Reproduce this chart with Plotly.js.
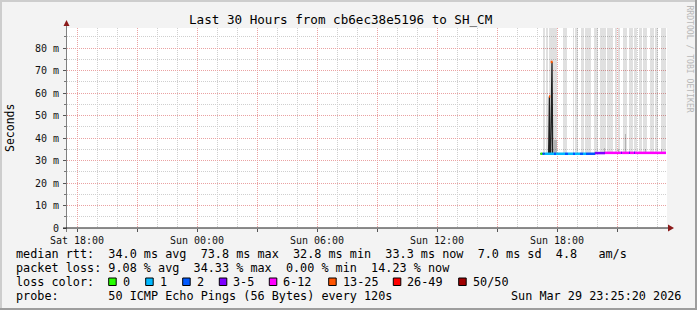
<!DOCTYPE html>
<html><head><meta charset="utf-8">
<script src="https://cdn.plot.ly/plotly-3.0.1.min.js"></script>
<style>html,body{margin:0;padding:0;background:#f3f3f3;}#chart{width:697px;height:310px;}</style>
</head><body><div id="chart"></div>
<script>
// ---------------- data ----------------
const xTickVals = ['2026-03-28 18:00','2026-03-28 21:00','2026-03-29 00:00','2026-03-29 03:00','2026-03-29 06:00','2026-03-29 09:00','2026-03-29 12:00','2026-03-29 15:00','2026-03-29 18:00','2026-03-29 21:00'];
const xTickText = ['Sat 18:00','','Sun 00:00','','Sun 06:00','','Sun 12:00','','Sun 18:00',''];
const yTickVals = [0,10,20,30,40,50,60,70,80];
const yTickText = ['0','10 m','20 m','30 m','40 m','50 m','60 m','70 m','80 m'];

const lossLabels = ['0','1','2','3-5','6-12','13-25','26-49','50/50'];
const lossColors = ['#26ff00','#00b8ff','#0059ff','#7e00ff','#ff00ff','#ff5500','#ff0000','#a00000'];

// median (ms) per interval, coloured by loss bucket index
const segStart  = ['17:10:30','17:16:30','17:22:30','17:51','17:57','18:24','18:33','18:48','18:54','19:09','19:18','19:27','19:54','20:24','21:12','21:15','21:36','21:39','21:51','21:54','17:36','17:41'];
const segEnd    = ['17:16:30','17:22:30','17:51','17:57','18:24','18:33','18:48','18:54','19:09','19:18','19:27','19:54','20:24','21:12','21:15','21:36','21:39','21:51','21:54','23:27','17:40','17:47'];
const segMedian = [33.0,33.0,33.0,33.0,33.0,33.0,33.0,33.0,33.0,33.0,33.0,33.0,33.3,33.4,33.4,33.4,33.4,33.4,33.4,33.4,58.4,73.8];
const segLoss   = [0,2,1,2,1,2,1,2,1,2,1,2,3,4,3,4,3,4,3,4,5,5];

// thin dark median line
const lineTime = ['17:10','17:35','17:37','17:38','17:41','17:43','17:45','17:47','19:54','19:55','23:27'];
const lineMs   = [33.0,33.0,58.4,33.0,33.0,73.8,73.8,33.0,33.0,33.4,33.4];

// smoke: pings spread (light bars go above the chart top)
const smokeStart = ['17:17','17:28','17:37','17:50','18:17','18:47','18:55','19:11','19:25','19:51','20:10','20:31','20:53','21:02','21:17','21:36','21:51','22:07','22:19','22:39','22:55','23:11'];
const smokeEnd   = ['17:23','17:34','17:50','17:59','18:29','18:52','19:04','19:20','19:43','20:04','20:27','20:49','20:59','21:10','21:29','21:47','22:01','22:14','22:31','22:50','23:04','23:26'];
const smokeTop   = [100,100,100,100,100,100,100,100,100,100,100,100,100,100,100,100,100,100,100,100,100,100];
const smokeDarkStart = ['17:33','17:51','20:20','21:03','21:23','22:23','23:11'];
const smokeDarkEnd   = ['17:38','18:00','20:23','21:06','21:26','22:26','23:14'];
const smokeDarkTop   = [36.8,39.3,35.5,35.3,42.0,35.0,35.0];

const rttStats  = ['34.0','73.8','32.8','33.3','7.0','4.8'];
const lossStats = ['9.08','34.33','0.00','14.23'];

// ---------------- build ----------------
const DAY = '2026-03-29 ';
const ms = s => Date.parse((DAY + s).replace(' ','T') + 'Z');
const L=67, Tm=28, PW=600, PH=200;
const px = p => (p - L)/PW;
const py = p => (Tm + PH - p)/PH;
const MONO = 'DejaVu Sans Mono';
const sp = s => s.replace(/ /g,'\u00a0');

const traces = [];
traces.push({type:'bar', x: smokeStart.map((s,i)=>(ms(s)+ms(smokeEnd[i]))/2),
  width: smokeStart.map((s,i)=>ms(smokeEnd[i])-ms(s)),
  base: smokeStart.map(()=>33.5), y: smokeTop.map(v=>v-33.5),
  marker:{color:'rgba(0,0,0,0.12)', line:{width:0}}, hoverinfo:'skip'});
traces.push({type:'bar', x: smokeDarkStart.map((s,i)=>(ms(s)+ms(smokeDarkEnd[i]))/2),
  width: smokeDarkStart.map((s,i)=>ms(smokeDarkEnd[i])-ms(s)),
  base: smokeDarkStart.map(()=>33.2), y: smokeDarkTop.map(v=>v-33.2),
  marker:{color:'rgba(0,0,0,0.2)', line:{width:0}}, hoverinfo:'skip'});
traces.push({type:'scatter', mode:'lines', x: lineTime.map(ms), y: lineMs,
  line:{color:'#202020', width:1.3}, hoverinfo:'skip'});
lossColors.forEach((c,b)=>{
  const xs=[], ys=[];
  segLoss.forEach((l,i)=>{ if(l===b){ xs.push(ms(segStart[i]), ms(segEnd[i]), null); ys.push(segMedian[i], segMedian[i], null);} });
  if(xs.length) traces.push({type:'scatter', mode:'lines', x:xs, y:ys, line:{color:c, width:2.5}, hoverinfo:'skip'});
});

const shapes = [];
const rectPx = (x0,y0,x1,y1,fill,line) => shapes.push({type:'rect', xref:'paper', yref:'paper',
  x0:px(x0), x1:px(x1), y0:py(y1), y1:py(y0), fillcolor:fill, line: line||{width:0}, layer:'above'});
rectPx(0,0,697,2,'#cdcdcd'); rectPx(0,0,2,310,'#cdcdcd');
rectPx(0,308,697,310,'#9d9d9d'); rectPx(695,0,697,310,'#9d9d9d');
shapes.push({type:'line', xref:'paper', yref:'paper', x0:px(66.5), x1:px(66.5), y0:py(232), y1:py(24), line:{color:'#808080', width:1}});
shapes.push({type:'line', xref:'paper', yref:'paper', x0:px(63), x1:px(670), y0:py(228), y1:py(228), line:{color:'#1a1a1a', width:1}});
shapes.push({type:'path', xref:'paper', yref:'paper', path:`M ${px(63.5)} ${py(26)} L ${px(66.5)} ${py(20)} L ${px(69.5)} ${py(26)} Z`, fillcolor:'#8b1a1a', line:{width:0}});
shapes.push({type:'path', xref:'paper', yref:'paper', path:`M ${px(668)} ${py(224.5)} L ${px(674)} ${py(228)} L ${px(668)} ${py(231.5)} Z`, fillcolor:'#8b1a1a', line:{width:0}});

const annotations = [];
const txt = (t,x,y,size,opts) => annotations.push(Object.assign({text:sp(t), xref:'paper', yref:'paper', x:px(x), y:py(y),
  xanchor:'left', yanchor:'middle', showarrow:false, borderpad:0, borderwidth:0,
  font:{family:MONO, size:size, color:'#000'}}, opts||{}));
txt('Last 30 Hours from cb6ec38e5196 to SH_CM', 340.5, 19.5, 12.6, {xanchor:'center'});
txt('Seconds', 10, 128, 11.5, {xanchor:'center', textangle:-90});
txt('RRDTOOL / TOBI OETIKER', 689, 58.5, 8.1, {xanchor:'center', textangle:90, font:{family:MONO, size:8.1, color:'#b8b8b8'}});
const LS = 11.8;
txt(`median rtt:  ${rttStats[0]} ms avg  ${rttStats[1]} ms max  ${rttStats[2]} ms min  ${rttStats[3]} ms now  ${rttStats[4]} ms sd  ${rttStats[5]}   am/s`,16,254.3,LS);
txt(`packet loss: ${lossStats[0]} % avg  ${lossStats[1]} % max  ${lossStats[2]} % min  ${lossStats[3]} % now`,16,268.3,LS);
txt('loss color:',16,282.3,LS);
const boxX = [108.7,145.7,182.7,219.3,269.3,328.7,393.3,458.7];
lossLabels.forEach((lab,i)=>{
  rectPx(boxX[i], 278, boxX[i]+7.5, 285.5, lossColors[i], {color:'#000', width:1});
  txt(lab, boxX[i]+14, 282.3, LS);
});
txt('probe:       50 ICMP Echo Pings (56 Bytes) every 120s',16,296.3,LS);
txt('Sun Mar 29 23:25:20 2026',680.5,296.3,LS,{xanchor:'right'});

const layout = {
  width:697, height:310, margin:{l:67, r:30, t:28, b:82, pad:0},
  paper_bgcolor:'#f3f3f3', plot_bgcolor:'#ffffff', showlegend:false,
  barmode:'overlay', bargap:0,
  xaxis:{type:'date', range:['2026-03-28 17:30','2026-03-29 23:30'], tickmode:'array', tickvals:xTickVals, ticktext:xTickText,
    showgrid:true, gridcolor:'#eaa2a2', griddash:'1px,1px', gridwidth:1, zeroline:false, showline:false,
    ticks:'outside', ticklen:3, tickcolor:'#555', tickfont:{family:MONO, size:10, color:'#111'},
    minor:{dtick:3600000, tick0:'2026-03-28 18:00', showgrid:true, gridcolor:'#cfcfcf', griddash:'1px,1px', gridwidth:1, ticks:''},
    fixedrange:true},
  yaxis:{range:[0,88.9], tickmode:'array', tickvals:yTickVals, ticktext:yTickText,
    showgrid:true, gridcolor:'#eaa2a2', griddash:'1px,1px', gridwidth:1, zeroline:false, showline:false,
    ticks:'outside', ticklen:3, tickcolor:'#555', tickfont:{family:MONO, size:10, color:'#111'}, ticklabelstandoff:2,
    minor:{dtick:5, tick0:0, showgrid:true, gridcolor:'#cfcfcf', griddash:'1px,1px', gridwidth:1, ticks:'outside', ticklen:2, tickcolor:'#777'},
    fixedrange:true},
  shapes:shapes, annotations:annotations
};
Plotly.newPlot('chart', traces, layout, {staticPlot:true, displayModeBar:false});
</script></body></html>
